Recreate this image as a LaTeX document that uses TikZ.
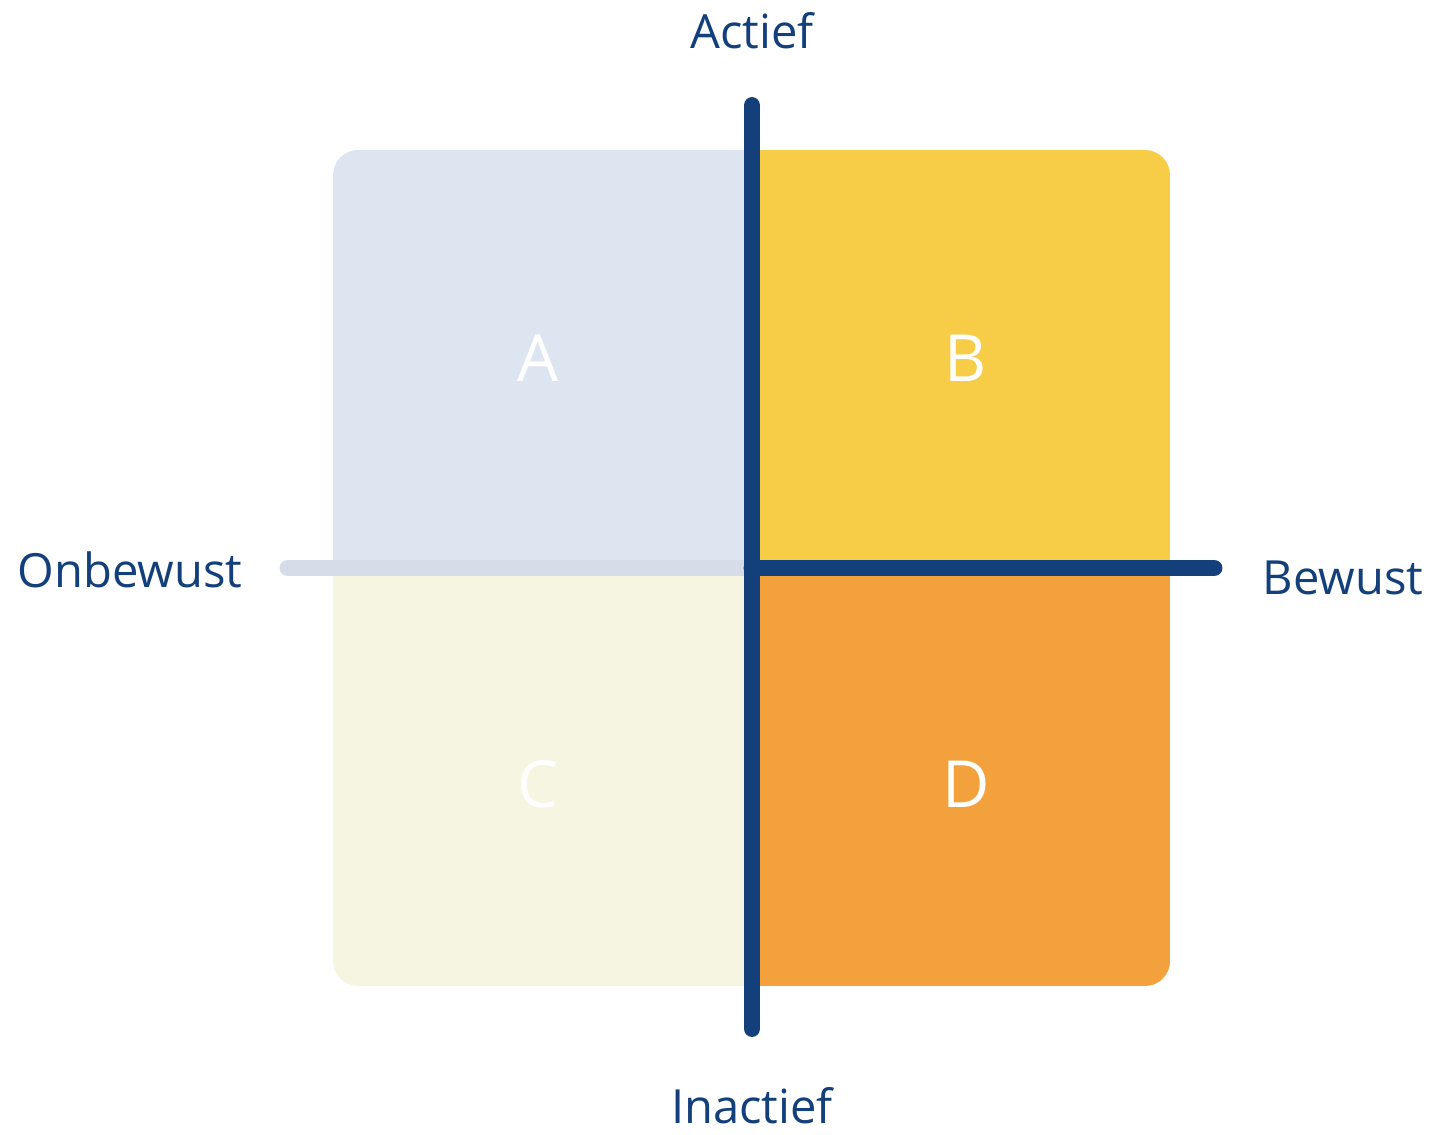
\documentclass[tikz,border=0pt]{standalone}
\usepackage{fontspec}
\setmainfont{Open Sans}
\definecolor{navy}{HTML}{133F7A}
\definecolor{qA}{HTML}{DDE6F0}
\definecolor{qB}{HTML}{F7CD48}
\definecolor{qC}{HTML}{F6F5E1}
\definecolor{qD}{HTML}{F3A13D}
\definecolor{greyaxis}{HTML}{D6DDE8}
\begin{document}
\begin{tikzpicture}[line cap=round, line join=round, font=\fontsize{13.4}{15}\selectfont,
	axis/.style={line width=4.8pt},
	lbl/.style={text=navy, inner sep=0pt},
	quad/.style={text=white, font=\fontsize{18.5}{20}\selectfont, inner sep=0pt}]
	\useasboundingbox (0,0) rectangle (14.32,-11.34);
	\path (3.33,-1.50) coordinate (NW)
		(11.70,-9.86) coordinate (SE)
		(7.52,-5.68) coordinate (O)
		(7.52,-1.055) coordinate (T)
		(7.52,-10.285) coordinate (U)
		(2.88,-5.68) coordinate (L)
		(12.14,-5.68) coordinate (R);
	\begin{scope}
		\clip[rounded corners=0.25cm] (NW) rectangle (SE);
		\fill[qA] (NW) rectangle (O);
		\fill[qB] (O |- NW) rectangle (SE |- O);
		\fill[qC] (NW |- O) rectangle (O |- SE);
		\fill[qD] (O) rectangle (SE);
	\end{scope}
	\draw[axis, greyaxis] (L)--(O);
	\draw[axis, navy] (T)--(U) (O)--(R);
	\foreach \n/\x/\y in {A/5.38/-3.58,B/9.66/-3.58,C/5.38/-7.84,D/9.66/-7.84} \node[quad] (\n) at (\x,\y) {\n};
	\node[lbl] (actief) at (7.52,-0.31) {Actief};
	\node[lbl] (inactief) at (7.52,-11.06) {Inactief};
	\node[lbl] (onbewust) at (1.30,-5.70) {Onbewust};
	\node[lbl] (bewust) at (13.43,-5.78) {Bewust};
\end{tikzpicture}
\end{document}
